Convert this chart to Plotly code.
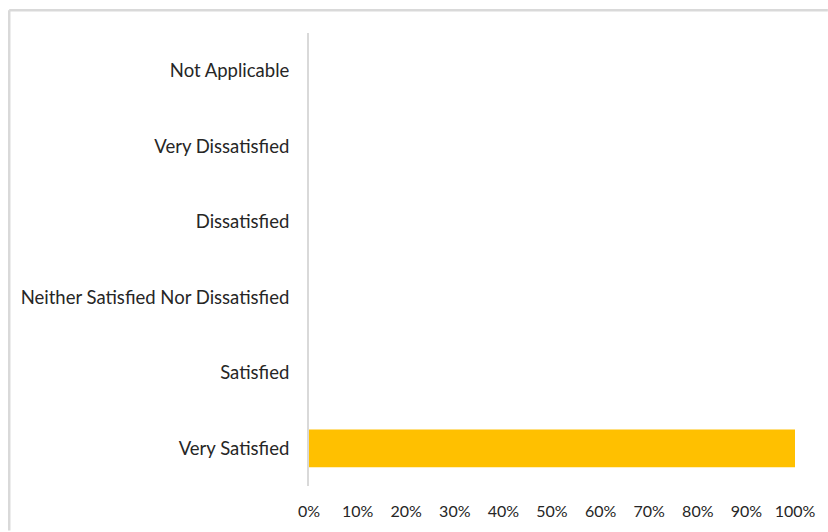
import plotly.graph_objects as go

categories = ["Very Satisfied", "Satisfied", "Neither Satisfied Nor Dissatisfied",
              "Dissatisfied", "Very Dissatisfied", "Not Applicable"]
values = [1.0, 0, 0, 0, 0, 0]
tick_vals = [i / 10 for i in range(11)]
tick_text = [f"{i*10}%" for i in range(11)]

W, H = 828, 532
L, R, T, B = 309, 31, 33, 42
pw, ph = W - L - R, H - T - B

fig = go.Figure(go.Bar(
    y=categories, x=values, orientation="h",
    marker=dict(color="#FFC000", line=dict(width=0)),
))

def px_x(p):
    return (p - L) / pw

def px_y(p):
    return 1 - (p - T) / ph

fig.update_layout(
    width=W, height=H, autosize=False,
    margin=dict(l=L, r=R, t=T, b=B, pad=0),
    paper_bgcolor="white", plot_bgcolor="white",
    bargap=0.5,
    showlegend=False,
    font=dict(family="Lato, Noto Sans, sans-serif", size=18.5, color="#262626"),
    xaxis=dict(range=[0, 1], tickvals=tick_vals, ticktext=tick_text,
               showgrid=False, zeroline=False, showline=False, ticks="",
               ticklabelstandoff=14,
               tickfont=dict(size=16, color="#262626"), fixedrange=True),
    yaxis=dict(showgrid=False, zeroline=False, showline=True, linecolor="#d9d9d9",
               linewidth=2, ticks="", ticklabelstandoff=14, categoryorder="array",
               categoryarray=categories, fixedrange=True),
    shapes=[
        dict(type="line", xref="paper", yref="paper", x0=px_x(8), x1=px_x(830),
             y0=px_y(10), y1=px_y(10), line=dict(color="#d9d9d9", width=2.5)),
        dict(type="line", xref="paper", yref="paper", x0=px_x(8), x1=px_x(8),
             y0=px_y(10), y1=px_y(535), line=dict(color="#d9d9d9", width=2.5)),
    ],
)

fig.write_html("out.html", config={"displayModeBar": False},
               post_script="document.body.style.margin='0';")
